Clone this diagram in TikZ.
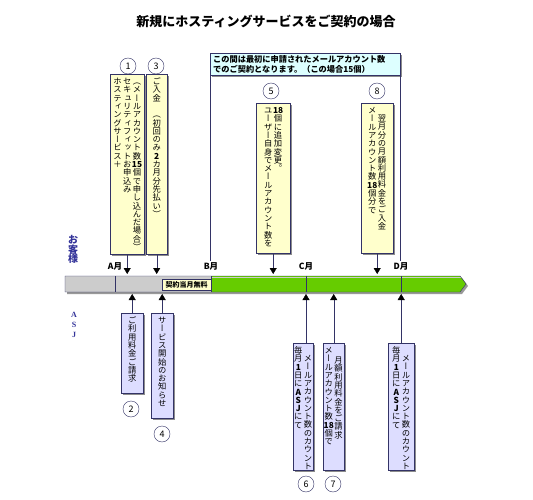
\documentclass[tikz,border=0pt]{standalone}
\usepackage{fontspec}
\setmainfont{Noto Sans CJK JP}
\newfontfamily\vertfont[RawFeature=+vert]{Noto Sans CJK JP}
\newfontfamily\asjfont{Liberation Serif}
\usetikzlibrary{arrows.meta, shadows}

\definecolor{navy}{HTML}{333366}
\definecolor{guestblue}{HTML}{333399}
\definecolor{memoyellow}{HTML}{FFFFCC}
\definecolor{memoblue}{HTML}{DDDDFF}
\definecolor{notecyan}{HTML}{DDFFFF}
\definecolor{bargray}{HTML}{CCCCCC}
\definecolor{bargreen}{HTML}{66CC00}

% vertical column of characters, one cell per character
\ExplSyntaxOn
\NewDocumentCommand \tate { O{0pt} m }
  {
    \vtop
      {
        \offinterlineskip
        \kern #1
        \tl_map_inline:nn {#2}
          { \hbox to 1em { \hss \vrule height .88em depth .12em width 0pt \relax ##1 \hss } }
      }
  }
\ExplSyntaxOff
\newcommand\colgap{\kern1.5pt}
\newcommand\memotext[3]{\vbox to #2pt{\kern3pt\hbox to #1pt{\hss#3\hss}\vss}}
\newcommand\memofont{\vertfont\fontsize{8.3}{8.3}\selectfont}

\begin{document}
\begin{tikzpicture}[x=1pt, y=-1pt,
    memo/.style={draw=navy, inner sep=0pt, anchor=north west, font=\memofont,
      drop shadow={shadow xshift=2pt, shadow yshift=-2pt, fill=black!45, opacity=1}},
    guestmemo/.style={memo, fill=memoyellow},
    asjmemo/.style={memo, fill=memoblue},
    num/.style={circle, draw=navy, fill=white, minimum size=16pt, inner sep=0pt,
      font=\fontsize{9}{9}\selectfont},
    month/.style={font=\bfseries\fontsize{8.5}{8.5}\selectfont, inner sep=1pt},
    conn/.style={draw=navy, -{Triangle[width=7pt,length=6pt,color=black]}},
    tick/.style={draw=navy}]
  \useasboundingbox (0,0) rectangle (533,500);

  \node[font=\bfseries\fontsize{13}{13}\selectfont] (title) at (266,21)
    {新規にホスティングサービスをご契約の場合};

  % time bar
  \fill[black!40] (67,278) -- (462,278) -- (468,286) -- (462,294) -- (67,294) -- cycle;
  \fill[bargray] (65,276) rectangle (211,292);
  \fill[bargreen] (211,276) -- (460,276) -- (466,284) -- (460,292) -- (211,292) -- cycle;
  \draw[white!80!black, line width=1.2pt] (66,277.8) -- (461,277.8);
  \draw[navy] (65,276) -- (460,276) -- (466,284) -- (460,292) -- (65,292) -- cycle;
  \node[draw=navy, fill=memoyellow, inner sep=0pt, minimum width=49pt, minimum height=11pt,
    font=\bfseries\fontsize{7}{7}\selectfont] (free) at (186.5,285) {契約当月無料};
  \foreach \x in {115,211,306,401}
    \draw[tick] (\x,276) -- (\x,292);

  \node[month] (lA) at (115,266) {A月};
  \node[month] (lB) at (211,266) {B月};
  \node[month] (lC) at (306,266) {C月};
  \node[month] (lD) at (401,266) {D月};
  \coordinate (bartop) at (0,274);
  \coordinate (barbot) at (0,294);

  % side labels
  \node[text=guestblue, font=\bfseries\fontsize{10}{10}\selectfont, anchor=north, inner sep=0pt]
    (guest) at (73,234) {\tate{お客様}};
  \node[text=guestblue, font=\asjfont\bfseries\fontsize{8}{10}\selectfont, align=center,
    anchor=north, inner sep=0pt] (asj) at (74,312) {A\\S\\J};

  % note on the contract period
  \node[draw=navy, fill=notecyan, anchor=north west, text width=184pt, align=left,
    inner xsep=3pt, inner ysep=2.5pt, font=\bfseries\fontsize{8.2}{9.4}\selectfont,
    drop shadow={shadow xshift=1.5pt, shadow yshift=-1.5pt, fill=black!45, opacity=1}]
    (note) at (210,53) {この間は最初に申請されたメールアカウント数\\でのご契約となります。（この場合{\bfseries 15}個）};
  \draw[navy] (note.south west) -- (note.south west |- lB.north);
  \draw[navy] (note.south east) -- (note.south east |- lD.north);

  % customer side
  \node[guestmemo] (m1) at (110,74) {\memotext{34}{180}{\tate{ホスティングサービス＋}\colgap
    \tate{セキュリティフィットお申込み}\colgap
    \tate{（メールアカウント数{\bfseries 15}個で申し込んだ場合）}}};
  \node[guestmemo] (m3) at (146,74) {\memotext{21}{180}{\tate{ご入金{}（初回のみ{\bfseries 2}カ月分先払い）}}};
  \node[guestmemo] (m5) at (256,103) {\memotext{34}{150}{\tate{ユーザー自身でメールアカウント数を}\colgap
    \tate{{\bfseries 18}個に追加変更。}}};
  \node[guestmemo] (m8) at (361,103) {\memotext{32}{150}{\tate{メールアカウント数{\bfseries 18}個分で}\colgap
    \tate[8pt]{翌月分の月額利用料金をご入金}}};

  % ASJ side
  \node[asjmemo] (m2) at (121,313) {\memotext{22}{80}{\tate{ご利用料金ご請求}}};
  \node[asjmemo] (m4) at (151,313) {\memotext{22}{105}{\tate{サービス開始のお知らせ}}};
  \node[asjmemo] (m6) at (293,343) {\memotext{20}{127}{\tate{毎月{\bfseries 1}日に{\bfseries A}{\bfseries S}{\bfseries J}にて}\colgap
    \tate[8pt]{メールアカウント数のカウント}}};
  \node[asjmemo] (m7) at (323,343) {\memotext{21}{127}{\tate{メールアカウント数{\bfseries 18}個で}\colgap
    \tate[10pt]{月額利用料金をご請求}}};
  \node[asjmemo] (m9) at (388,343) {\memotext{26}{127}{\tate{毎月{\bfseries 1}日に{\bfseries A}{\bfseries S}{\bfseries J}にて}\colgap
    \tate[8pt]{メールアカウント数のカウント}}};

  \node[num] (n1) at (128,66) {1};
  \node[num] (n3) at (156,66) {3};
  \node[num] (n5) at (271,91) {5};
  \node[num] (n8) at (377,91) {8};
  \node[num] (n2) at (131,409) {2};
  \node[num] (n4) at (162,434) {4};
  \node[num] (n6) at (306,484) {6};
  \node[num] (n7) at (333,484) {7};

  \draw[conn] (m1.south) -- (m1.south |- bartop);
  \draw[conn] (m3.south) -- (m3.south |- bartop);
  \draw[conn] (m5.south) -- (m5.south |- bartop);
  \draw[conn] (m8.south) -- (m8.south |- bartop);
  \draw[conn] (m2.north) -- (m2.north |- barbot);
  \draw[conn] (m4.north) -- (m4.north |- barbot);
  \draw[conn] (m6.north -| lC) -- (lC |- barbot);
  \draw[conn] (m7.north) -- (m7.north |- barbot);
  \draw[conn] (m9.north) -- (m9.north |- barbot);
\end{tikzpicture}
\end{document}
